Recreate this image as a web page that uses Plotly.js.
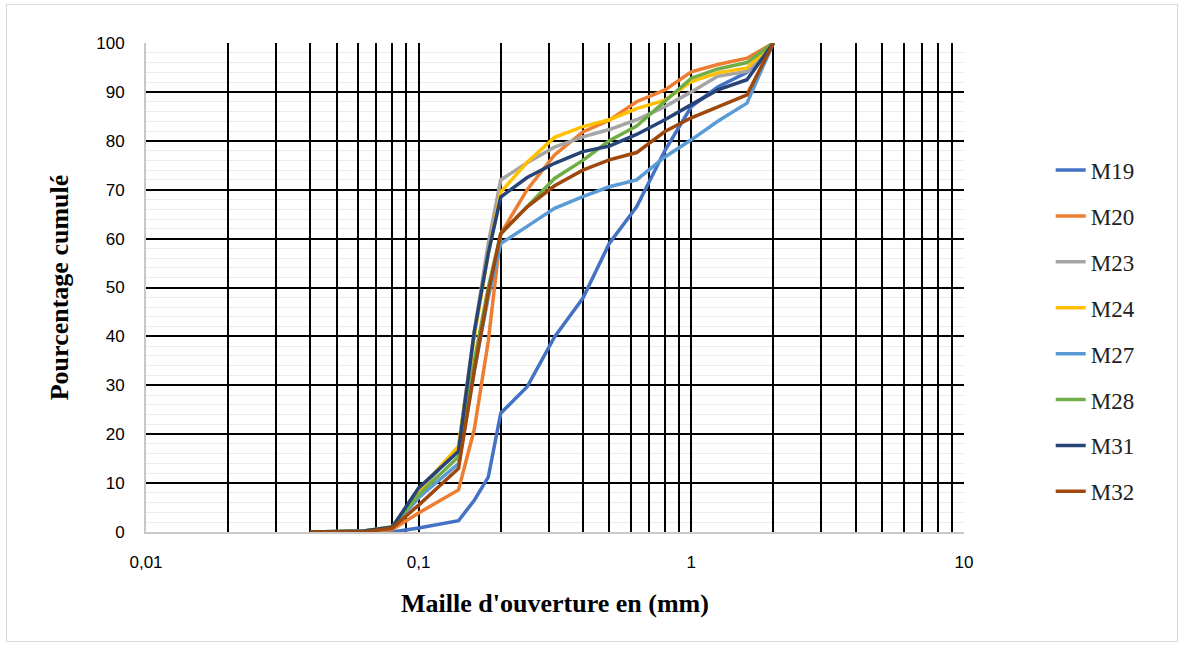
<!DOCTYPE html>
<html>
<head>
<meta charset="utf-8">
<script src="https://cdn.plot.ly/plotly-3.0.1.min.js"></script>
<style>
  html, body { margin: 0; padding: 0; background: #fff; }
  #wrap { position: relative; width: 1184px; height: 648px; }
  #chart { width: 1184px; height: 648px; }
  #frame { position: absolute; left: 6px; top: 4px; width: 1170px; height: 636px;
           border: 1px solid #d9d9d9; pointer-events: none; }
</style>
</head>
<body>
<div id="wrap"><div id="chart"></div><div id="frame"></div></div>
<script>
// Sieve openings (mm)
const sieve = [0.04, 0.063, 0.08, 0.1, 0.14, 0.16, 0.18, 0.2, 0.25, 0.315, 0.4, 0.5, 0.63, 0.8, 1, 1.25, 1.6, 2];

// Cumulative passing (%) per sample
const M19 = [0, 0, 0, 0.8, 2.3, 6.5, 11.2, 24.3, 29.7, 39.9, 47.8, 59, 66.5, 78, 87, 91, 94, 100];
const M20 = [0, 0, 0.5, 3.9, 8.6, 21, 39, 61, 70, 77.1, 81.8, 84.2, 88, 90.4, 94.1, 95.6, 96.9, 100];
const M23 = [0, 0.2, 1, 8, 17.5, 41, 59, 72, 75.5, 78.7, 80.8, 82.3, 84.3, 87, 90, 93.2, 94.2, 100];
const M24 = [0, 0.2, 1, 8.5, 17.5, 40, 57, 69.5, 75.6, 80.7, 82.9, 84.3, 86.6, 88.3, 92.1, 93.9, 94.9, 100];
const M27 = [0, 0.1, 0.8, 7, 14, 33, 48, 59, 62.5, 66.2, 68.6, 70.6, 72, 76.7, 80.2, 84, 87.7, 100];
const M28 = [0, 0.2, 1.1, 7.6, 15.4, 35, 50, 61, 66.5, 72.3, 76, 80, 83, 88, 92.8, 94.7, 96, 100];
const M31 = [0, 0.2, 1, 9, 16.5, 41, 57, 68.5, 72.5, 75.4, 77.8, 78.9, 81.3, 84.3, 87.4, 90.4, 92.5, 100];
const M32 = [0, 0, 0.8, 5.5, 13, 33, 49, 61, 66.5, 70.8, 74, 76.1, 77.6, 81.9, 84.7, 87, 89.4, 100];

const seriesNames = ["M19", "M20", "M23", "M24", "M27", "M28", "M31", "M32"];
const seriesValues = [M19, M20, M23, M24, M27, M28, M31, M32];
const seriesColors = ["#4472C4", "#ED7D31", "#A5A5A5", "#FFC000", "#5B9BD5", "#70AD47", "#264478", "#9E480E"];

// Axis tick labels (decades)
const xDecades = [0.01, 0.1, 1, 10];
const xDecadeLabels = ["0,01", "0,1", "1", "10"];

// Log grid: every digit 1..9 in each decade, labels only at decades
const xTickVals = [];
const xTickText = [];
xDecades.forEach((d, k) => {
  const maxDigit = (k === xDecades.length - 1) ? 1 : 9;
  for (let m = 1; m <= maxDigit; m++) {
    xTickVals.push(d * m);
    xTickText.push(m === 1 ? xDecadeLabels[k] : "");
  }
});

const traces = seriesNames.map((n, i) => ({
  type: "scatter",
  mode: "lines",
  name: n,
  legendgroup: n,
  x: sieve,
  y: seriesValues[i],
  line: { color: seriesColors[i], width: 3.5 },
  hoverinfo: "x+y+name"
}));

const layout = {
  width: 1184,
  height: 648,
  margin: { l: 146, r: 220, t: 43, b: 116 },
  paper_bgcolor: "#fff",
  plot_bgcolor: "#fff",
  separators: ", ",
  showlegend: true,
  legend: {
    x: 1.106, xanchor: "left",
    y: 0.784, yanchor: "top",
    font: { family: "Liberation Serif", size: 23, color: "#222" },
    traceorder: "grouped",
    tracegroupgap: 13,
    bgcolor: "rgba(0,0,0,0)"
  },
  xaxis: {
    type: "log",
    range: [-2, 1],
    tickmode: "array",
    tickvals: xTickVals,
    ticktext: xTickText,
    ticks: "",
    ticklabelstandoff: 14,
    showgrid: true,
    gridcolor: "#000",
    gridwidth: 2,
    showline: true,
    linecolor: "#c8c8c8",
    linewidth: 2,
    zeroline: false,
    tickfont: { family: "Liberation Sans", size: 17, color: "#000" },
    automargin: false,
    title: {
      text: "Maille d'ouverture en (mm)",
      font: { family: "Liberation Serif", size: 26, color: "#000", weight: "bold" },
      standoff: 22
    }
  },
  yaxis: {
    range: [0, 100],
    dtick: 10,
    ticks: "",
    ticklabelstandoff: 16,
    showgrid: true,
    gridcolor: "#000",
    gridwidth: 2,
    minor: { dtick: 2, showgrid: true, gridcolor: "#ececec", gridwidth: 1, griddash: "solid", ticks: "" },
    showline: true,
    linecolor: "#c8c8c8",
    linewidth: 2,
    zeroline: false,
    tickfont: { family: "Liberation Sans", size: 17, color: "#000" },
    automargin: false,
    title: {
      text: "Pourcentage cumulé",
      font: { family: "Liberation Serif", size: 26, color: "#000", weight: "bold" },
      standoff: 20
    }
  }
};

Plotly.newPlot("chart", traces, layout, { displayModeBar: false, responsive: false });
</script>
</body>
</html>
